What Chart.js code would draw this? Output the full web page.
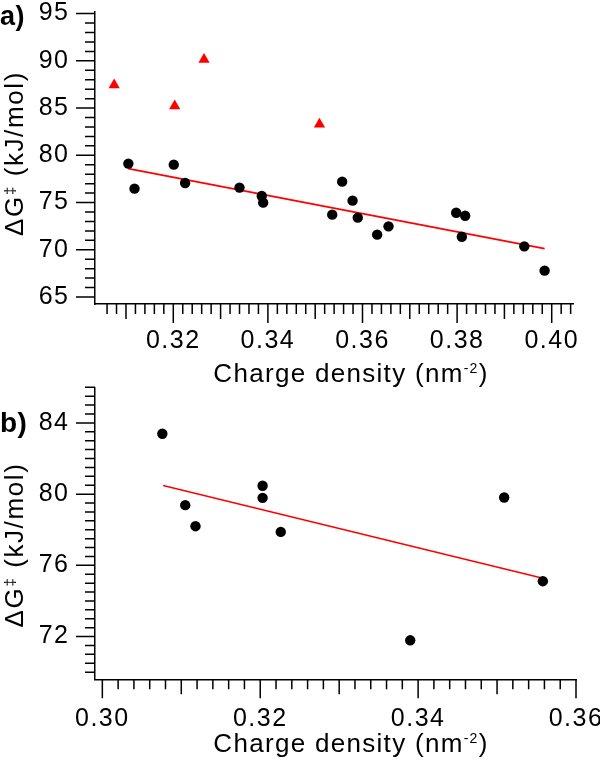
<!DOCTYPE html>
<html><head><meta charset="utf-8">
<script src="https://cdn.jsdelivr.net/npm/chart.js@4.4.1/dist/chart.umd.min.js"></script>
<style>
html,body{margin:0;padding:0;background:#fff;}
#wrap{position:relative;width:600px;height:764px;overflow:hidden;background:#fff;}
.box{position:absolute;left:0;width:600px;}
</style></head><body>
<div id="wrap">
<div class="box" style="top:0;height:395px"><canvas id="chartA"></canvas></div>
<div class="box" style="top:330px;height:434px"><canvas id="chartB"></canvas></div>
</div>
<script>
// ---- data ----
const topCircleX = [0.3105,0.3118,0.3201,0.3225,0.3340,0.3387,0.3390,0.3536,0.3557,0.3579,0.3590,0.3631,0.3655,0.3798,0.3817,0.3810,0.3942,0.3985];
const topCircleY = [79.12,76.47,79.01,77.07,76.58,75.69,74.99,73.72,77.21,75.20,73.40,71.60,72.48,73.92,73.60,71.38,70.36,67.79];
const topTriangleX = [0.3075,0.3203,0.3265,0.3509];
const topTriangleY = [87.44,85.21,90.15,83.30];
const topFitX = [0.3105,0.3985];
const topFitY = [78.59,70.12];

const botCircleX = [0.3076,0.3105,0.3118,0.3203,0.3203,0.3226,0.3509,0.3558,0.3390];
const botCircleY = [83.39,79.38,78.20,80.47,79.79,77.88,79.81,75.11,71.79];
const botFitX = [0.3077,0.3558];
const botFitY = [80.48,75.28];

const topXTicks = [0.32,0.34,0.36,0.38,0.40];
const topYTicks = [65,70,75,80,85,90,95];
const botXTicks = [0.30,0.32,0.34,0.36];
const botYTicks = [72,76,80,84];

const panelLabels = ['a)','b)'];
const xTitleMain = 'Charge density (nm';
const xTitleSup = '-2';
const xTitleEnd = ')';
const yTitleA = '\u0394G';
const yTitleSup = '\u2021';
const yTitleEnd = ' (kJ/mol)';

// ---- helpers ----
const FAM = "'Liberation Sans', Arial, Helvetica, sans-serif";
const pts = (xs, ys) => xs.map((x, i) => ({x: x, y: ys[i]}));

function drawParts(ctx, parts, x, y, rot, ls) {
  ctx.save();
  ctx.translate(x, y);
  ctx.rotate(rot);
  ctx.letterSpacing = ls + 'px';
  ctx.fillStyle = '#000';
  ctx.textBaseline = 'alphabetic';
  ctx.textAlign = 'left';
  let total = 0;
  parts.forEach(p => { ctx.font = p.font; p.w = ctx.measureText(p.t).width; total += p.w; });
  let cx = -total / 2;
  parts.forEach(p => { ctx.font = p.font; ctx.fillText(p.t, cx, -p.rise); cx += p.w; });
  ctx.restore();
}

function makeChart(id, cfg) {
  const tickFont = {family: FAM, size: 25};
  const decor = {
    id: 'decor' + id,
    beforeDraw(chart) { chart.ctx.letterSpacing = '1.5px'; },
    afterDraw(chart) {
      const ctx = chart.ctx;
      const xs = chart.scales.x, ys = chart.scales.y;
      ctx.save();
      ctx.strokeStyle = '#000';
      ctx.lineWidth = 1.5;
      ctx.beginPath();
      const tx = cfg.xTickSpec;
      for (let i = tx.i0; i <= tx.i1; i++) {
        const v = i * tx.step;
        const len = (i % tx.major === 0) ? 19 : (i % tx.medium === 0 ? 15 : 10);
        const px = xs.getPixelForValue(v);
        ctx.moveTo(px, xs.top);
        ctx.lineTo(px, xs.top + len);
      }
      const ty = cfg.yTickSpec;
      for (let i = ty.i0; i <= ty.i1; i++) {
        const v = i * ty.step;
        const len = (i % ty.major === 0) ? 19 : 10;
        const py = ys.getPixelForValue(v);
        ctx.moveTo(ys.right, py);
        ctx.lineTo(ys.right - len, py);
      }
      ctx.stroke();
      ctx.restore();
      // panel label
      ctx.save();
      ctx.letterSpacing = '0.5px';
      ctx.fillStyle = '#000';
      ctx.font = 'bold ' + cfg.panelSize + 'px ' + FAM;
      ctx.textBaseline = 'alphabetic';
      ctx.textAlign = 'left';
      ctx.fillText(cfg.panel, 0, cfg.panelY);
      ctx.restore();
      // x title
      drawParts(ctx, [
        {t: xTitleMain, font: '26px ' + FAM, rise: 0},
        {t: xTitleSup, font: '14px ' + FAM, rise: 9},
        {t: xTitleEnd, font: '26px ' + FAM, rise: 0}
      ], cfg.xTitleX, cfg.xTitleY, 0, 1.3);
      // y title
      drawParts(ctx, [
        {t: yTitleA, font: '26px ' + FAM, rise: 0},
        {t: yTitleSup, font: '15px ' + FAM, rise: 8},
        {t: yTitleEnd, font: '26px ' + FAM, rise: 0}
      ], cfg.yTitleX, cfg.yTitleY, -Math.PI / 2, 1.6);
    }
  };
  return new Chart(document.getElementById(id), {
    type: 'scatter',
    data: {datasets: cfg.datasets},
    options: {
      responsive: true,
      maintainAspectRatio: false,
      animation: false,
      devicePixelRatio: 1,
      layout: {padding: {top: cfg.padTop, right: cfg.padRight, left: 0, bottom: 0}},
      plugins: {legend: {display: false}, tooltip: {enabled: false}},
      scales: {
        x: {
          type: 'linear', position: 'bottom', min: cfg.xMin, max: cfg.xMax,
          grid: {display: false, drawTicks: false},
          border: {display: true, color: '#000', width: 1.5},
          ticks: {font: tickFont, color: '#000', padding: cfg.xPad, maxRotation: 0, autoSkip: false,
                  callback: v => Number(v).toFixed(2)},
          afterBuildTicks: s => { s.ticks = cfg.xTicks.map(v => ({value: v})); },
          afterFit: s => { s.height = cfg.xAxisH; s.paddingLeft = 0; s.paddingRight = 0; }
        },
        y: {
          type: 'linear', position: 'left', min: cfg.yMin, max: cfg.yMax,
          grid: {display: false, drawTicks: false},
          border: {display: true, color: '#000', width: 1.5},
          ticks: {font: tickFont, color: '#000', padding: 25.5, autoSkip: false,
                  callback: v => String(Math.round(v))},
          afterBuildTicks: s => { s.ticks = cfg.yTicks.map(v => ({value: v})); },
          afterFit: s => { s.width = 95; s.paddingTop = 0; s.paddingBottom = 0; }
        }
      }
    },
    plugins: [decor]
  });
}

makeChart('chartA', {
  datasets: [
    {data: pts(topCircleX, topCircleY), pointStyle: 'circle', pointRadius: 5.2, backgroundColor: '#000', borderWidth: 0, clip: false},
    {data: pts(topTriangleX, topTriangleY), pointStyle: 'triangle', pointRadius: 6.5, backgroundColor: '#ff0000', borderWidth: 0, clip: false},
    {type: 'line', data: pts(topFitX, topFitY), borderColor: '#ff0000', borderWidth: 1.6, pointRadius: 0, fill: false, tension: 0}
  ],
  xMin: 0.30345, xMax: 0.4045, yMin: 64.26, yMax: 95.17,
  xTicks: topXTicks, yTicks: topYTicks,
  xTickSpec: {i0: 153, i1: 202, step: 0.002, major: 10, medium: 5},
  yTickSpec: {i0: 65, i1: 95, step: 1, major: 5},
  padTop: 12, padRight: 27, xAxisH: 91, xPad: 22,
  panel: panelLabels[0], panelSize: 27, panelY: 25,
  xTitleX: 351, xTitleY: 381.5, yTitleX: 23, yTitleY: 153.5
});

makeChart('chartB', {
  datasets: [
    {data: pts(botCircleX, botCircleY), pointStyle: 'circle', pointRadius: 5.2, backgroundColor: '#000', borderWidth: 0, clip: false},
    {type: 'line', data: pts(botFitX, botFitY), borderColor: '#ff0000', borderWidth: 1.6, pointRadius: 0, fill: false, tension: 0}
  ],
  xMin: 0.29907, xMax: 0.36, yMin: 69.6, yMax: 86.0,
  xTicks: botXTicks, yTicks: botYTicks,
  xTickSpec: {i0: 150, i1: 180, step: 0.002, major: 10, medium: 5},
  yTickSpec: {i0: 140, i1: 172, step: 0.5, major: 8},
  padTop: 57.3, padRight: 24, xAxisH: 84.7, xPad: 24.7,
  panel: panelLabels[1], panelSize: 28, panelY: 102,
  xTitleX: 351, xTitleY: 422, yTitleX: 23, yTitleY: 215
});
</script>
</body></html>
